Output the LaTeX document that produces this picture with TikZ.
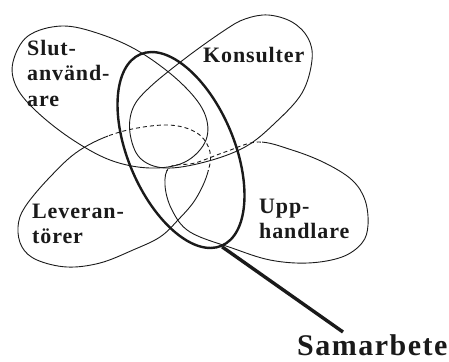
\documentclass[tikz,border=0pt]{standalone}
\usepackage{fontspec}
\setmainfont{Liberation Serif}
\usetikzlibrary{shapes.geometric}
\definecolor{tusch}{HTML}{1A1A1A}
\tikzset{
  blad/.style={draw=tusch, line width=0.9pt},
  lupp/.style={draw=tusch, ellipse, line width=2.4pt, inner sep=0pt, minimum width=208pt, minimum height=106pt},
  skaft/.style={draw=tusch, line width=3.4pt},
  etikett/.style={text=tusch, inner sep=0pt, align=left, font=\bfseries\fontsize{22}{25.5}\selectfont\addfontfeatures{LetterSpace=4}},
  rubrik/.style={text=tusch, inner sep=0pt, font=\bfseries\fontsize{30}{34}\selectfont\addfontfeatures{LetterSpace=5}}
}
% de två nedre bladen (ritas två gånger: heldragna utanför mitten, streckade i mitten)
\newcommand{\nedreblad}[1]{%
  \draw[blad,#1] plot[smooth cycle, tension=0.6] coordinates {(18,227) (25,207) (50,177) (80,150) (120,132) (167,125) (197,133) (210,152) (207,175) (195,200) (178,220) (160,237) (133,250) (100,263) (67,267) (37,260) (22,247)};
  \draw[blad,#1] plot[smooth cycle, tension=0.6] coordinates {(170,167) (165,185) (172,210) (190,232) (232,248) (270,260) (308,263) (342,257) (362,243) (368,225) (365,200) (352,180) (325,163) (292,150) (258,142) (225,152) (195,163)};
}

\begin{document}
\begin{tikzpicture}[x=1pt, y=-1pt]
  \useasboundingbox (0,0) rectangle (449,361);

  % övre bladen
  \draw[blad] plot[smooth cycle, tension=0.6] coordinates {(13,62) (28,36) (62,26) (100,34) (140,52) (180,82) (204,112) (206,140) (185,162) (150,168) (110,160) (70,138) (35,110) (16,86)};
  \draw[blad] plot[smooth cycle, tension=0.6] coordinates {(130,133) (133,108) (150,87) (187,57) (225,30) (245,19) (268,15) (292,22) (308,38) (312,60) (302,93) (275,123) (245,147) (205,162) (165,168) (140,158)};

  % nedre bladen
  \begin{scope}[even odd rule]
    \clip (0,0) rectangle (449,361) (108,118) rectangle (262,170);
    \nedreblad{}
  \end{scope}
  \begin{scope}
    \clip (108,118) rectangle (262,170);
    \nedreblad{dash pattern=on 4pt off 3pt}
  \end{scope}

  % luppen
  \node[lupp, rotate=-67] (glas) at (181,150) {};
  \coordinate (handtag) at (343,332);
  \draw[skaft] (glas.east) -- (handtag);

  \node[etikett, anchor=north west] (slut) at (27,40) {Slut-\\använd-\\are};
  \node[etikett, anchor=base west] (kons) at (203,63) {Konsulter};
  \node[etikett, anchor=north west] (lev) at (32,203.5) {Leveran-\\törer};
  \node[etikett, anchor=north west] (upp) at (259,198.5) {Upp-\\handlare};
  \node[rubrik, anchor=base west] (samarb) at (297,355.5) {Samarbete};
\end{tikzpicture}
\end{document}
